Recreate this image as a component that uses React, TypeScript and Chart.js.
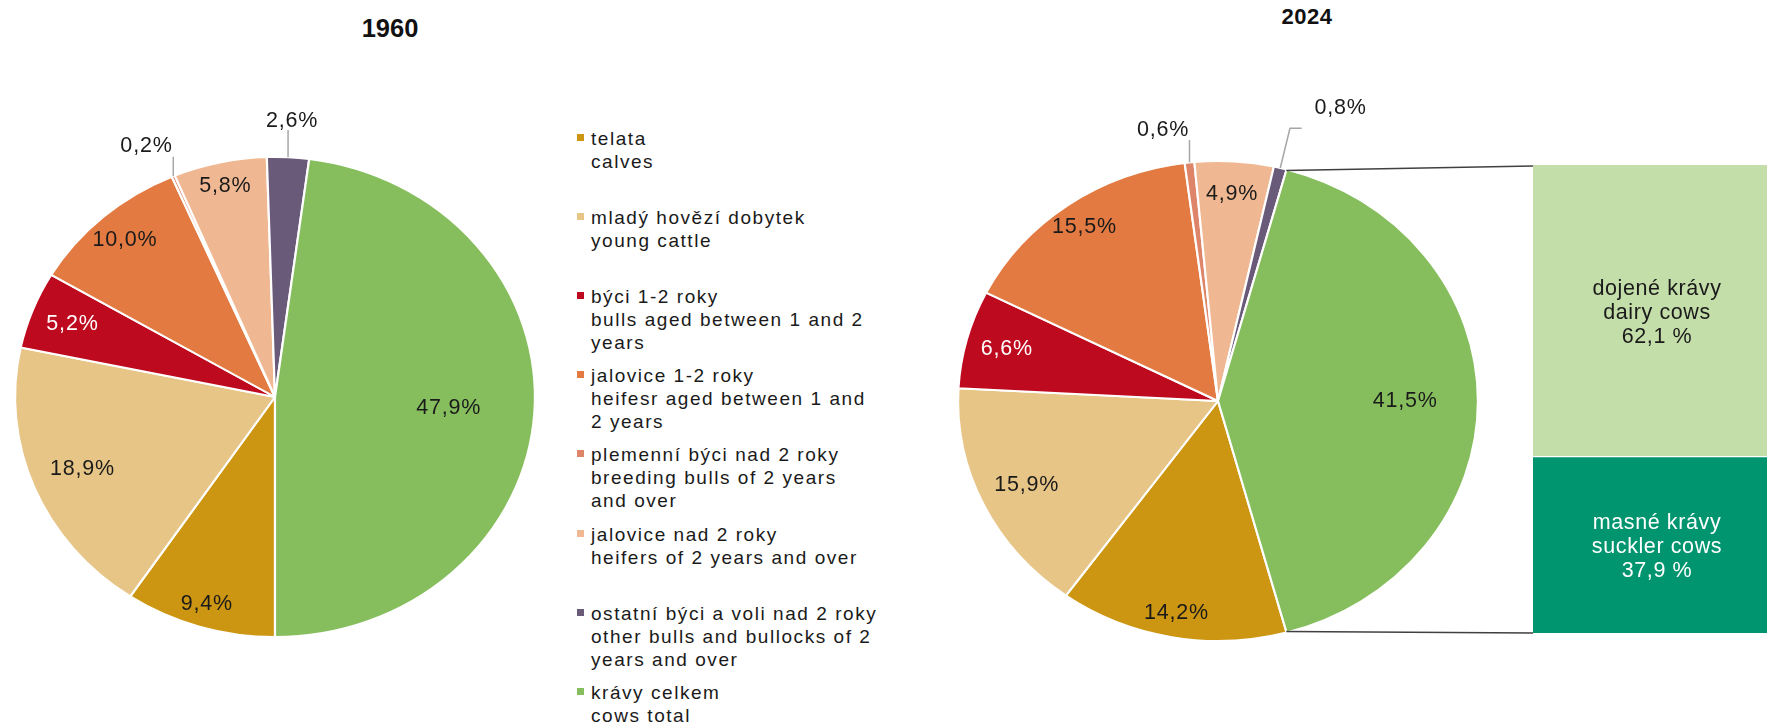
import React, { useEffect, useRef } from 'react';
import { Chart, registerables } from 'chart.js';

Chart.register(...registerables);

// ---------------- data ----------------
const YEARS = ['1960', '2024'];
const CATEGORIES_CZ = [
  'telata',
  'mladý hovězí dobytek',
  'býci 1-2 roky',
  'jalovice 1-2 roky',
  'plemenní býci nad 2 roky',
  'jalovice nad 2 roky',
  'ostatní býci a voli nad 2 roky',
  'krávy celkem',
];
const CATEGORIES_EN = [
  'calves',
  'young cattle',
  'bulls aged between 1 and 2\nyears',
  'heifesr aged between 1 and\n2 years',
  'breeding bulls of 2 years\nand over',
  'heifers of 2 years and over',
  'other bulls and bullocks of 2\nyears and over',
  'cows total',
];
const SHARES_1960 = [9.4, 18.9, 5.2, 10.0, 0.2, 5.8, 2.6, 47.9];
const SHARES_2024 = [14.2, 15.9, 6.6, 15.5, 0.6, 4.9, 0.8, 41.5];
const COW_TYPES_CZ = ['dojené krávy', 'masné krávy'];
const COW_TYPES_EN = ['dairy cows', 'suckler cows'];
const COW_SPLIT_2024 = [62.1, 37.9];

// ---------------- styles ----------------
const SLICE_COLORS = ['#CC9612', '#E6C587', '#BE0A1E', '#E27A41', '#DE8569', '#F0B892', '#6A5A7A', '#86BE5E'];
const LABEL_COLORS = ['#1a1a1a', '#1a1a1a', '#ffffff', '#1a1a1a', '#1a1a1a', '#1a1a1a', '#1a1a1a', '#1a1a1a'];
const COW_COLORS = ['#C4DEAA', '#00956E'];
const COW_TEXT_COLORS = ['#1a1a1a', '#ffffff'];
const FONT = '"Liberation Sans", Arial, sans-serif';
const STRETCH_X = 1.083;
const PIE_RADIUS = 240;
const BAR_TOP = 165;
const BAR_BOTTOM = 633;

type Leader = { len: number; bx: number; hx: number; dx: number; dy: number } | null;
interface PieStyle {
  rotation: number;
  labelR: number[];
  leaders: Leader[];
  padding: { left: number; right: number; top: number; bottom: number };
}

const PIE_1960_STYLE: PieStyle = {
  rotation: 180,
  labelR: [0.9, 0.8, 0.836, 0.873, 0, 0.9, 0, 0.67],
  leaders: [null, null, null, null, { len: 19.4, bx: 0, hx: 0, dx: -26.8, dy: -10.7 }, null, { len: 27.4, bx: 0, hx: 0, dx: 4, dy: -9 }, null],
  padding: { left: 0, right: 20, top: 67, bottom: 0 },
};
const PIE_2024_STYLE: PieStyle = {
  // bar-of-pie convention: split slice centred at 3 o'clock
  rotation: 90 + SHARES_2024[SHARES_2024.length - 1] * 1.8,
  labelR: [0.898, 0.816, 0.841, 0.89, 0, 0.864, 0, 0.72],
  leaders: [null, null, null, null, { len: 22.5, bx: 0, hx: 0, dx: -26.5, dy: -10.2 }, null, { len: 39.7, bx: 9.7, hx: 11.7, dx: 38.9, dy: -20.3 }, null],
  padding: { left: 3, right: 0, top: 75, bottom: 0 },
};

const fmt = (v: number) => v.toFixed(1).replace('.', ',');

const ellipsePlugin = {
  id: 'ellipse',
  beforeDatasetsDraw(chart: any) {
    const a = chart.getDatasetMeta(0).data[0];
    const ctx = chart.ctx;
    ctx.save();
    ctx.translate(a.x, a.y);
    ctx.scale(STRETCH_X, 1);
    ctx.translate(-a.x, -a.y);
  },
  afterDatasetsDraw(chart: any) {
    chart.ctx.restore();
  },
};

const makeLabelPlugin = (style: PieStyle) => ({
  id: 'pieLabels',
  afterDraw(chart: any) {
    const ctx = chart.ctx;
    const meta = chart.getDatasetMeta(0);
    const values = chart.data.datasets[0].data as number[];
    ctx.save();
    ctx.font = `21.5px ${FONT}`;
    (ctx as any).letterSpacing = '0.8px';
    ctx.textAlign = 'center';
    ctx.textBaseline = 'middle';
    meta.data.forEach((arc: any, i: number) => {
      const { x, y, startAngle, endAngle, outerRadius } = arc;
      const mid = (startAngle + endAngle) / 2;
      let lx: number;
      let ly: number;
      const leader = style.leaders[i];
      if (leader) {
        const ex = x + Math.cos(mid) * outerRadius * STRETCH_X;
        const ey = y + Math.sin(mid) * outerRadius;
        const tx = ex + leader.bx;
        const ty = ey - leader.len;
        ctx.strokeStyle = '#A6A6A6';
        ctx.lineWidth = 1.5;
        ctx.beginPath();
        ctx.moveTo(ex, ey);
        ctx.lineTo(tx, ty);
        ctx.lineTo(tx + leader.hx, ty);
        ctx.stroke();
        lx = tx + leader.hx + leader.dx;
        ly = ty + leader.dy;
      } else {
        const r = outerRadius * style.labelR[i];
        lx = x + Math.cos(mid) * r * STRETCH_X;
        ly = y + Math.sin(mid) * r;
      }
      ctx.fillStyle = LABEL_COLORS[i];
      ctx.fillText(fmt(values[i]) + '%', lx, ly);
    });
    ctx.restore();
  },
});

const connectorPlugin = {
  id: 'connector',
  afterDraw(chart: any) {
    const meta = chart.getDatasetMeta(0);
    const arc = meta.data[meta.data.length - 1];
    const { x, y, startAngle, endAngle, outerRadius } = arc;
    const r = outerRadius - 1;
    const ctx = chart.ctx;
    ctx.save();
    ctx.strokeStyle = '#404040';
    ctx.lineWidth = 1.5;
    ctx.beginPath();
    ctx.moveTo(x + Math.cos(startAngle) * r * STRETCH_X, y + Math.sin(startAngle) * r);
    ctx.lineTo(chart.width, BAR_TOP + 1);
    ctx.moveTo(x + Math.cos(endAngle) * r * STRETCH_X, y + Math.sin(endAngle) * r);
    ctx.lineTo(chart.width, BAR_BOTTOM);
    ctx.stroke();
    ctx.restore();
  },
};

const barTextPlugin = {
  id: 'barText',
  afterDatasetsDraw(chart: any) {
    const ctx = chart.ctx;
    ctx.save();
    ctx.font = `21.5px ${FONT}`;
    (ctx as any).letterSpacing = '0.6px';
    ctx.textAlign = 'center';
    ctx.textBaseline = 'middle';
    chart.data.datasets.forEach((ds: any, i: number) => {
      const el = chart.getDatasetMeta(i).data[0];
      const cy = (el.y + el.base) / 2 + 3;
      const lines = [COW_TYPES_CZ[i], COW_TYPES_EN[i], fmt(ds.data[0]) + ' %'];
      ctx.fillStyle = COW_TEXT_COLORS[i];
      lines.forEach((t, k) => ctx.fillText(t, el.x, cy + (k - 1) * 24));
    });
    ctx.restore();
  },
};

function PieCanvas({ values, style, withConnector, left, width }: { values: number[]; style: PieStyle; withConnector: boolean; left: number; width: number }) {
  const ref = useRef<HTMLCanvasElement>(null);
  useEffect(() => {
    if (!ref.current) return;
    const plugins: any[] = [ellipsePlugin, makeLabelPlugin(style)];
    if (withConnector) plugins.push(connectorPlugin);
    const chart = new Chart(ref.current, {
      type: 'pie',
      data: {
        labels: CATEGORIES_CZ,
        datasets: [
          {
            data: values,
            backgroundColor: SLICE_COLORS,
            borderColor: '#ffffff',
            borderWidth: 2,
            radius: PIE_RADIUS,
          } as any,
        ],
      },
      options: {
        animation: false,
        responsive: false,
        rotation: style.rotation,
        layout: { padding: style.padding },
        plugins: { legend: { display: false }, tooltip: { enabled: false }, title: { display: false } },
      },
      plugins,
    });
    return () => chart.destroy();
  }, []);
  return (
    <canvas
      ref={ref}
      width={width}
      height={727}
      style={{ position: 'absolute', left, top: 0, width, height: 727 }}
    />
  );
}

function CowBar() {
  const ref = useRef<HTMLCanvasElement>(null);
  useEffect(() => {
    if (!ref.current) return;
    const chart = new Chart(ref.current, {
      type: 'bar',
      data: {
        labels: ['krávy'],
        datasets: COW_SPLIT_2024.map((v, i) => ({
          label: COW_TYPES_CZ[i],
          data: [v],
          backgroundColor: COW_COLORS[i],
          borderColor: '#ffffff',
          borderWidth: i === 0 ? 0 : { top: 2, left: 0, right: 0, bottom: 0 },
          borderSkipped: false,
          barPercentage: 1,
          categoryPercentage: 1,
        })) as any,
      },
      options: {
        animation: false,
        responsive: false,
        layout: { padding: 0 },
        plugins: { legend: { display: false }, tooltip: { enabled: false }, title: { display: false } },
        scales: {
          x: { display: false, stacked: true },
          y: { display: false, stacked: true, min: 0, max: 100, reverse: true },
        },
      },
      plugins: [barTextPlugin],
    });
    return () => chart.destroy();
  }, []);
  const h = BAR_BOTTOM - BAR_TOP;
  return (
    <canvas ref={ref} width={248} height={h} style={{ position: 'absolute', left: 1533, top: BAR_TOP, width: 248, height: h }} />
  );
}

export default function App() {
  return (
    <div style={{ position: 'absolute', left: 0, top: 0, width: 1767, height: 727, overflow: 'hidden', background: '#fff' }}>
      <div style={{ position: 'absolute', left: 290, top: 13, width: 200, textAlign: 'center', font: `bold 25.5px ${FONT}`, lineHeight: '30px', color: '#111' }}>
        {YEARS[0]}
      </div>
      <div style={{ position: 'absolute', left: 1207, top: 4, width: 200, textAlign: 'center', font: `bold 22px ${FONT}`, lineHeight: '26px', letterSpacing: '0.5px', color: '#111' }}>
        {YEARS[1]}
      </div>
      <PieCanvas values={SHARES_1960} style={PIE_1960_STYLE} withConnector={false} left={0} width={570} />
      <PieCanvas values={SHARES_2024} style={PIE_2024_STYLE} withConnector={true} left={900} width={633} />
      <CowBar />
      {CATEGORIES_CZ.map((cz, i) => (
        <div key={i} style={{ position: 'absolute', left: 577, top: 126.5 + i * 79.2 }}>
          <div style={{ position: 'absolute', left: 0, top: 7, width: 7, height: 7, background: SLICE_COLORS[i] }} />
          <div
            style={{
              position: 'absolute',
              left: 14,
              top: 0,
              whiteSpace: 'pre',
              font: `19px ${FONT}`,
              lineHeight: '23px',
              letterSpacing: '1.55px',
              color: '#1a1a1a',
            }}
          >
            {cz + '\n' + CATEGORIES_EN[i]}
          </div>
        </div>
      ))}
    </div>
  );
}
